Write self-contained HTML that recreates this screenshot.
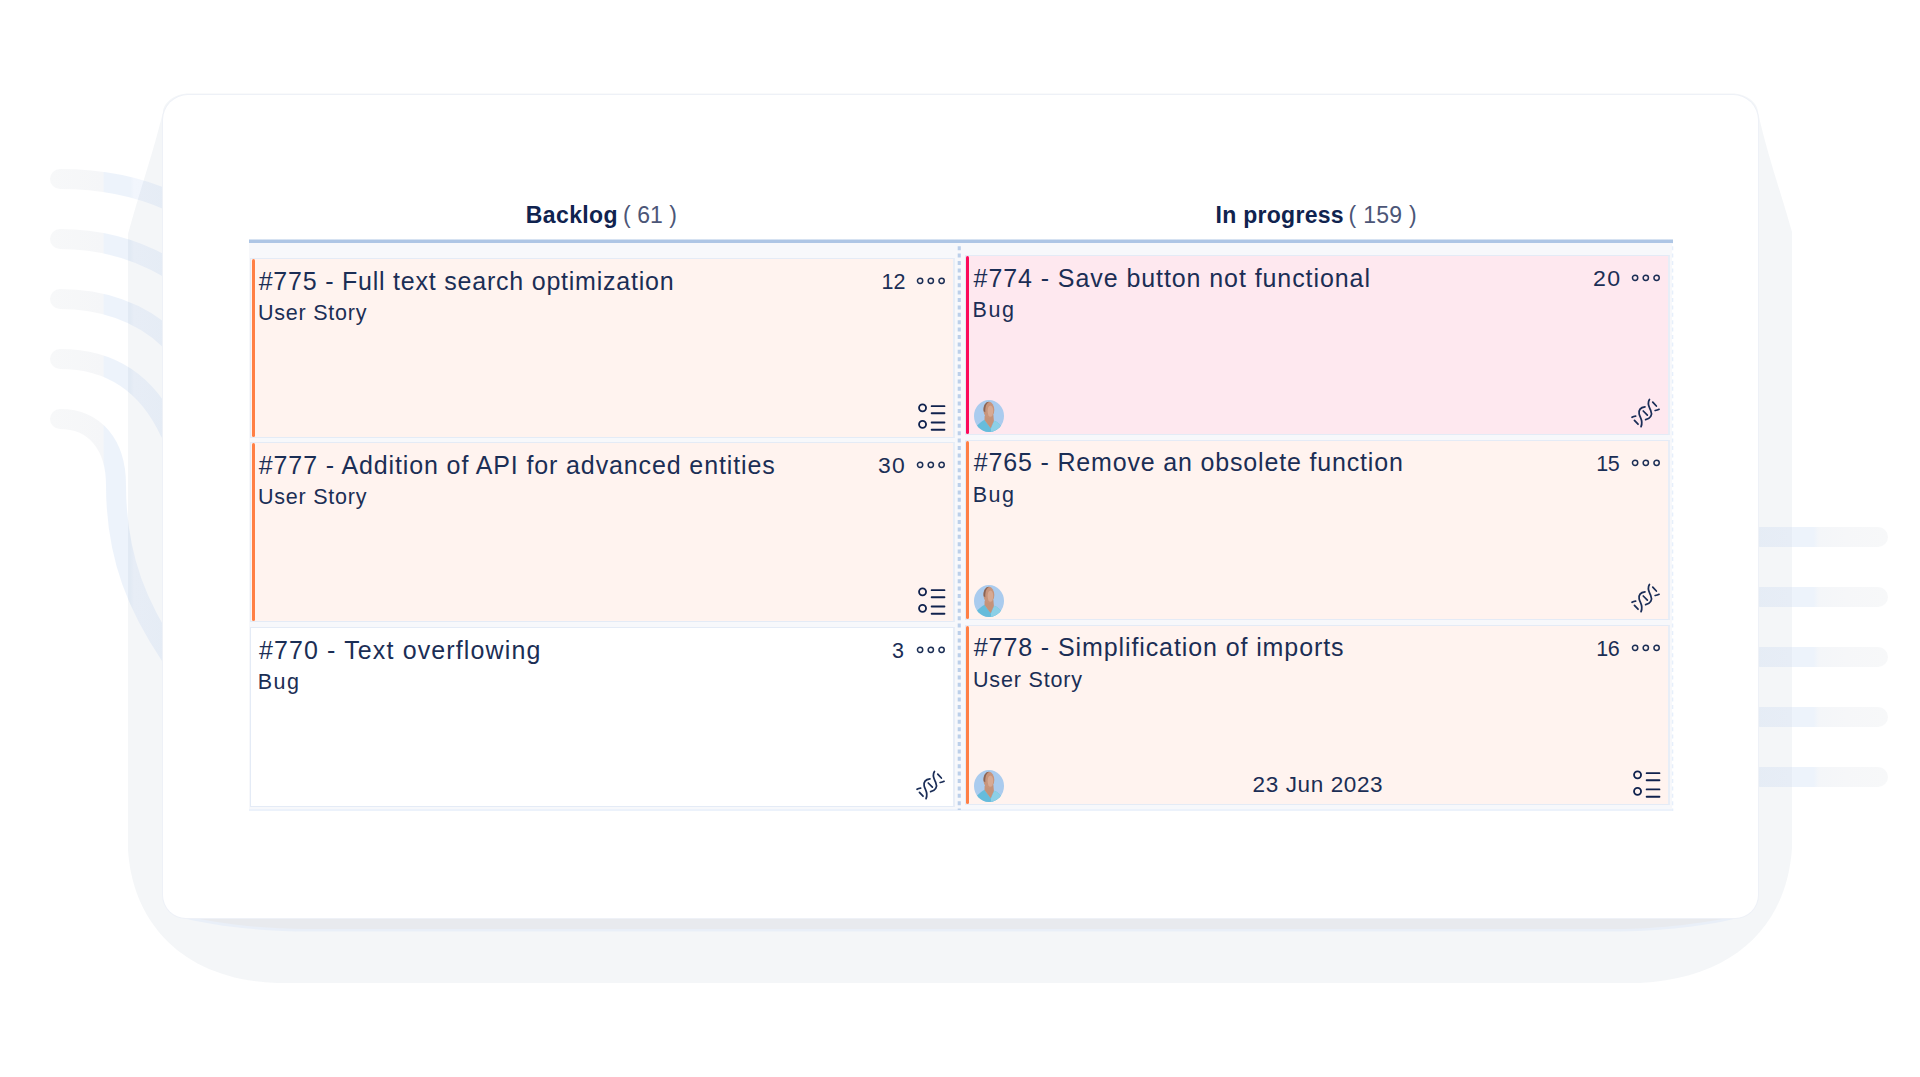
<!DOCTYPE html>
<html lang="en">
<head>
<meta charset="utf-8">
<title>Kanban board</title>
<style>
*{box-sizing:border-box;margin:0;padding:0}
html,body{width:1920px;height:1077px;overflow:hidden;background:#fff}
body{position:relative;font-family:"Liberation Sans",sans-serif;color:#1b2e55}
.abs{position:absolute}
#deco{left:0;top:0;width:1920px;height:1077px}
#panel{left:163px;top:95px;width:1595px;height:823px;background:#fff;border-radius:25px 25px 23px 23px;box-shadow:0 0 0 1px #eef1f7}
.hdr{top:200px;height:30px;line-height:30px;font-size:23px;white-space:nowrap;color:#4c5677}
.hdr b{font-weight:700;color:#10234f}
#hline{left:248.5px;top:239px;width:1424px;height:5px;background:linear-gradient(to bottom,rgba(174,198,229,.5) 0,rgba(174,198,229,.5) 1px,#aec6e5 1px,#aec6e5 4px,rgba(174,198,229,.12) 4px,rgba(174,198,229,.12) 5px)}
#cols{left:249px;top:243px;width:1423px;height:568px;background:#f7f8fb;border-bottom:2px solid #ecf2fb}
.card{width:705px;height:180px;border:solid #e4ebf6;border-right-color:#e8eef7;border-width:1px 2px 1px 1px;background:#fff3ef}
.card.pink{background:#fee8ef}
.card.white{background:#fff}
.stripe{left:.5px;top:0;width:3.5px;height:178px;border-radius:1.6px;background:#ff7f45}
.pink .stripe{background:#fc0a5a}
.r .stripe{left:0;width:3.3px}
.t{left:7.3px;top:calc(6.8px + var(--dy,0px));height:30px;line-height:30px;font-size:25px;white-space:nowrap;letter-spacing:.8px}
.s{left:6.4px;top:calc(41.4px + var(--dy,0px));height:26px;line-height:26px;font-size:21.5px;white-space:nowrap;letter-spacing:.8px}
.n{left:630px;top:calc(10.3px + var(--dy,0px));height:26px;line-height:26px;font-size:21.5px;white-space:nowrap}
.dots{right:5px;top:16.5px;width:34px;height:10px}
.ico{right:4px;bottom:3px;width:36px;height:36px}
.av{left:7px;bottom:.8px;width:32px;height:34px}
.date{left:286px;bottom:5.9px;height:26px;line-height:26px;font-size:22.5px;white-space:nowrap;letter-spacing:1.2px}
</style>
</head>
<body>
<svg id="deco" class="abs" viewBox="0 0 1920 1077">
<defs>
<linearGradient id="gl" gradientUnits="userSpaceOnUse" x1="50" y1="0" x2="170" y2="0"><stop offset="0" stop-color="#f7f8f9"/><stop offset=".44" stop-color="#f5f6f8"/><stop offset=".455" stop-color="#edf3fb"/><stop offset=".67" stop-color="#edf3fb"/><stop offset=".70" stop-color="#f2f6fd"/><stop offset="1" stop-color="#f0f5fc"/></linearGradient>
<linearGradient id="gr" gradientUnits="userSpaceOnUse" x1="1750" y1="0" x2="1888" y2="0"><stop offset="0" stop-color="#f0f5fc"/><stop offset=".3" stop-color="#f2f6fd"/><stop offset=".31" stop-color="#edf3fb"/><stop offset=".46" stop-color="#edf3fb"/><stop offset=".5" stop-color="#f4f6f9"/><stop offset=".7" stop-color="#f6f7f9"/><stop offset="1" stop-color="#f7f8f9"/></linearGradient>
</defs>
<g fill="none" stroke="url(#gl)" stroke-width="20" stroke-linecap="round">
<path d="M60 179C100 179 135 185 170 201"/>
<path d="M60 239C100 239 135 248 170 269"/>
<path d="M60 299C100 299 140 311 170 340"/>
<path d="M60 359C105 359 145 378 170 432"/>
<path d="M60 419C95 419 116 445 116 485C116 560 140 610 170 655"/>
</g>
<g fill="url(#gr)">
<rect x="1750" y="527" width="138" height="20" rx="10"/>
<rect x="1750" y="587" width="138" height="20" rx="10"/>
<rect x="1750" y="647" width="138" height="20" rx="10"/>
<rect x="1750" y="707" width="138" height="20" rx="10"/>
<rect x="1750" y="767" width="138" height="20" rx="10"/>
</g>
<path d="M189 93.4H1732C1748 93.4 1758 104 1758 112C1766 150 1780 190 1792 232V848C1787 925 1735 978 1640 983H277C185 980 133 925 128 850V234C140 190 154 150 163 112C163 104 173 93.4 189 93.4Z" fill="#1e3c6e" fill-opacity=".047"/>
<path d="M176 916C210 926 262 931.6 310 931.6H1611C1659 931.6 1711 926 1745 916Z" fill="#e9eff8"/>
<path d="M176 914C212 923 262 929 305 929H1616C1659 929 1709 923 1745 914Z" fill="#e8eaee"/>
</svg>
<div id="panel" class="abs"></div>

<div class="abs hdr" id="h1" style="left:525.8px;letter-spacing:0.39px"><b>Backlog</b></div>
<div class="abs hdr" id="c1" style="left:623.0px;letter-spacing:0.05px">( 61 )</div>
<div class="abs hdr" id="h2" style="left:1215.5px;letter-spacing:0.29px"><b>In progress</b></div>
<div class="abs hdr" id="c2" style="left:1348.6px;letter-spacing:0.27px">( 159 )</div>
<div id="hline" class="abs"></div>
<div id="cols" class="abs"></div>
<svg class="abs" style="left:955px;top:243px;width:8px;height:567px" viewBox="0 0 8 567"><path d="M4.25 3.2V567.6" stroke="#bbcfea" stroke-width="3.1" stroke-dasharray="4 3.4" fill="none"/></svg>
<svg class="abs" style="left:1670px;top:243px;width:4px;height:568px" viewBox="0 0 4 568"><path d="M2.6 3.2V568" stroke="#e6effb" stroke-width="1.4" stroke-dasharray="4 3.4" fill="none"/></svg>

<!-- left column -->
<div class="abs card" style="left:250px;top:258px">
  <div class="abs stripe"></div>
  <div class="abs t" id="tL1" style="left:7.7px;letter-spacing:0.78px">#775 - Full text search optimization</div>
  <div class="abs s" id="sL1" style="left:6.9px;letter-spacing:0.78px">User Story</div>
  <div class="abs n" id="nL1" style="left:630.4px;letter-spacing:0.07px">12</div>
  <svg class="abs dots" viewBox="0 0 34 10"><g fill="none" stroke="#1b2e55" stroke-width="1.5"><circle cx="6.1" cy="4.8" r="2.65"/><circle cx="16.8" cy="4.8" r="2.65"/><circle cx="27.6" cy="4.8" r="2.65"/></g></svg>
  <svg class="abs ico" viewBox="0 0 36 36"><g transform="translate(1.05 -0.95)" fill="none" stroke="#10224e" stroke-width="1.85" stroke-linecap="round"><circle cx="8.5" cy="10.8" r="3.5"/><circle cx="8.5" cy="27.3" r="3.5"/><path d="M17.6 9.1H30.4M17.6 16.2H30.4M17.6 25.4H30.4M17.6 32.7H30.4"/></g></svg>
</div>
<div class="abs card" style="left:250px;top:442px">
  <div class="abs stripe"></div>
  <div class="abs t" id="tL2" style="left:7.8px;letter-spacing:0.88px">#777 - Addition of API for advanced entities</div>
  <div class="abs s" id="sL2" style="left:6.9px;letter-spacing:0.78px">User Story</div>
  <div class="abs n" id="nL2" style="left:626.6px;letter-spacing:1.2px;transform:scaleX(1.065);transform-origin:0 0">30</div>
  <svg class="abs dots" viewBox="0 0 34 10"><g fill="none" stroke="#1b2e55" stroke-width="1.5"><circle cx="6.1" cy="4.8" r="2.65"/><circle cx="16.8" cy="4.8" r="2.65"/><circle cx="27.6" cy="4.8" r="2.65"/></g></svg>
  <svg class="abs ico" viewBox="0 0 36 36"><g transform="translate(1.05 -0.95)" fill="none" stroke="#10224e" stroke-width="1.85" stroke-linecap="round"><circle cx="8.5" cy="10.8" r="3.5"/><circle cx="8.5" cy="27.3" r="3.5"/><path d="M17.6 9.1H30.4M17.6 16.2H30.4M17.6 25.4H30.4M17.6 32.7H30.4"/></g></svg>
</div>
<div class="abs card white" style="left:250px;top:627px">
  <div class="abs t" id="tL3" style="left:7.9px;letter-spacing:1.13px">#770 - Text overflowing</div>
  <div class="abs s" id="sL3" style="left:6.8px;letter-spacing:1.43px">Bug</div>
  <div class="abs n" id="nL3" style="left:641.0px;letter-spacing:0.00px">3</div>
  <svg class="abs dots" viewBox="0 0 34 10"><g fill="none" stroke="#1b2e55" stroke-width="1.5"><circle cx="6.1" cy="4.8" r="2.65"/><circle cx="16.8" cy="4.8" r="2.65"/><circle cx="27.6" cy="4.8" r="2.65"/></g></svg>
  <svg class="abs ico" viewBox="0 0 36 36"><g transform="translate(-3.15 0.1)" fill="none" stroke="#1a2d57" stroke-width="1.75" stroke-linecap="round"><path d="M20.1 11.8C15.5 12.3 13.6 15 14.3 18.8C15 22.4 18.8 25.5 16.2 31.6"/><path d="M24.6 4.4C21.8 8.4 24.3 12 25.9 15.5C27.9 19.8 25.6 23.6 20.8 24.6"/><path d="M7.2 22.2C8.4 21.4 9.4 21.1 10.8 21"/><path d="M9.6 25.3L13.2 29.1"/><path d="M18.4 15.9L22.5 20"/><path d="M27.9 7.1L31.5 10.9"/><path d="M30.3 15.4C32 15.2 33.2 14.8 34.2 14.2"/></g></svg>
</div>

<!-- right column -->
<div class="abs card pink r" style="left:965px;top:255px">
  <div class="abs stripe"></div>
  <div class="abs t" id="tR1" style="left:7.6px;letter-spacing:0.92px">#774 - Save button not functional</div>
  <div class="abs s" id="sR1" style="left:6.6px;letter-spacing:1.61px">Bug</div>
  <div class="abs n" id="nR1" style="left:626.9px;letter-spacing:1.3px;transform:scaleX(1.075);transform-origin:0 0">20</div>
  <svg class="abs dots" viewBox="0 0 34 10"><g fill="none" stroke="#1b2e55" stroke-width="1.5"><circle cx="6.1" cy="4.8" r="2.65"/><circle cx="16.8" cy="4.8" r="2.65"/><circle cx="27.6" cy="4.8" r="2.65"/></g></svg>
  <svg class="abs ico" viewBox="0 0 36 36"><g transform="translate(-3.15 0.1)" fill="none" stroke="#1a2d57" stroke-width="1.75" stroke-linecap="round"><path d="M20.1 11.8C15.5 12.3 13.6 15 14.3 18.8C15 22.4 18.8 25.5 16.2 31.6"/><path d="M24.6 4.4C21.8 8.4 24.3 12 25.9 15.5C27.9 19.8 25.6 23.6 20.8 24.6"/><path d="M7.2 22.2C8.4 21.4 9.4 21.1 10.8 21"/><path d="M9.6 25.3L13.2 29.1"/><path d="M18.4 15.9L22.5 20"/><path d="M27.9 7.1L31.5 10.9"/><path d="M30.3 15.4C32 15.2 33.2 14.8 34.2 14.2"/></g></svg>
  <svg class="abs av" viewBox="0 0 32 32" preserveAspectRatio="none"><defs><clipPath id="avc1"><circle cx="16" cy="16" r="15"/></clipPath></defs><circle cx="16" cy="16" r="15" fill="#aacbee"/><g clip-path="url(#avc1)"><path d="M2 27.5C5 23.5 9 21 11.6 19.6L17.5 27L21 20.5C24.5 21.5 27.5 24 29.5 27.5L29 33H2Z" fill="#66bcdb"/><path d="M18 27.5L21 20.5C24.5 21.5 27.5 24 29.5 27.5V33H18Z" fill="#8ccfe6"/><path d="M11.6 16L11.5 19.8L17.6 27.6L20.9 20.8L20.4 15Z" fill="#c59279"/><ellipse cx="15.9" cy="10.4" rx="5.4" ry="7.8" fill="#c8947b"/><ellipse cx="17.4" cy="11.4" rx="2.8" ry="5.4" fill="#dcb09b" fill-opacity=".75"/><path d="M10.6 11.5C9.9 5.6 13 2.4 16.6 2.6C13.6 3.6 12.1 6.6 12.3 12.5Z" fill="#8b6455"/></g></svg>
</div>
<div class="abs card r" style="left:965px;top:440px;--dy:-.7px">
  <div class="abs stripe"></div>
  <div class="abs t" id="tR2" style="left:7.8px;letter-spacing:0.83px">#765 - Remove an obsolete function</div>
  <div class="abs s" id="sR2" style="left:6.8px;letter-spacing:1.43px">Bug</div>
  <div class="abs n" id="nR2" style="left:630.2px;letter-spacing:-0.50px">15</div>
  <svg class="abs dots" viewBox="0 0 34 10"><g fill="none" stroke="#1b2e55" stroke-width="1.5"><circle cx="6.1" cy="4.8" r="2.65"/><circle cx="16.8" cy="4.8" r="2.65"/><circle cx="27.6" cy="4.8" r="2.65"/></g></svg>
  <svg class="abs ico" viewBox="0 0 36 36"><g transform="translate(-3.15 0.1)" fill="none" stroke="#1a2d57" stroke-width="1.75" stroke-linecap="round"><path d="M20.1 11.8C15.5 12.3 13.6 15 14.3 18.8C15 22.4 18.8 25.5 16.2 31.6"/><path d="M24.6 4.4C21.8 8.4 24.3 12 25.9 15.5C27.9 19.8 25.6 23.6 20.8 24.6"/><path d="M7.2 22.2C8.4 21.4 9.4 21.1 10.8 21"/><path d="M9.6 25.3L13.2 29.1"/><path d="M18.4 15.9L22.5 20"/><path d="M27.9 7.1L31.5 10.9"/><path d="M30.3 15.4C32 15.2 33.2 14.8 34.2 14.2"/></g></svg>
  <svg class="abs av" viewBox="0 0 32 32" preserveAspectRatio="none"><defs><clipPath id="avc2"><circle cx="16" cy="16" r="15"/></clipPath></defs><circle cx="16" cy="16" r="15" fill="#aacbee"/><g clip-path="url(#avc2)"><path d="M2 27.5C5 23.5 9 21 11.6 19.6L17.5 27L21 20.5C24.5 21.5 27.5 24 29.5 27.5L29 33H2Z" fill="#66bcdb"/><path d="M18 27.5L21 20.5C24.5 21.5 27.5 24 29.5 27.5V33H18Z" fill="#8ccfe6"/><path d="M11.6 16L11.5 19.8L17.6 27.6L20.9 20.8L20.4 15Z" fill="#c59279"/><ellipse cx="15.9" cy="10.4" rx="5.4" ry="7.8" fill="#c8947b"/><ellipse cx="17.4" cy="11.4" rx="2.8" ry="5.4" fill="#dcb09b" fill-opacity=".75"/><path d="M10.6 11.5C9.9 5.6 13 2.4 16.6 2.6C13.6 3.6 12.1 6.6 12.3 12.5Z" fill="#8b6455"/></g></svg>
</div>
<div class="abs card r" style="left:965px;top:625px;--dy:-.7px">
  <div class="abs stripe"></div>
  <div class="abs t" id="tR3" style="left:7.8px;letter-spacing:0.90px">#778 - Simplification of imports</div>
  <div class="abs s" id="sR3" style="left:7.0px;letter-spacing:0.84px">User Story</div>
  <div class="abs n" id="nR3" style="left:630.2px;letter-spacing:-0.38px">16</div>
  <div class="abs date" id="date" style="left:286.6px;letter-spacing:0.61px">23 Jun 2023</div>
  <svg class="abs dots" viewBox="0 0 34 10"><g fill="none" stroke="#1b2e55" stroke-width="1.5"><circle cx="6.1" cy="4.8" r="2.65"/><circle cx="16.8" cy="4.8" r="2.65"/><circle cx="27.6" cy="4.8" r="2.65"/></g></svg>
  <svg class="abs ico" viewBox="0 0 36 36"><g transform="translate(1.05 -0.95)" fill="none" stroke="#10224e" stroke-width="1.85" stroke-linecap="round"><circle cx="8.5" cy="10.8" r="3.5"/><circle cx="8.5" cy="27.3" r="3.5"/><path d="M17.6 9.1H30.4M17.6 16.2H30.4M17.6 25.4H30.4M17.6 32.7H30.4"/></g></svg>
  <svg class="abs av" viewBox="0 0 32 32" preserveAspectRatio="none"><defs><clipPath id="avc3"><circle cx="16" cy="16" r="15"/></clipPath></defs><circle cx="16" cy="16" r="15" fill="#aacbee"/><g clip-path="url(#avc3)"><path d="M2 27.5C5 23.5 9 21 11.6 19.6L17.5 27L21 20.5C24.5 21.5 27.5 24 29.5 27.5L29 33H2Z" fill="#66bcdb"/><path d="M18 27.5L21 20.5C24.5 21.5 27.5 24 29.5 27.5V33H18Z" fill="#8ccfe6"/><path d="M11.6 16L11.5 19.8L17.6 27.6L20.9 20.8L20.4 15Z" fill="#c59279"/><ellipse cx="15.9" cy="10.4" rx="5.4" ry="7.8" fill="#c8947b"/><ellipse cx="17.4" cy="11.4" rx="2.8" ry="5.4" fill="#dcb09b" fill-opacity=".75"/><path d="M10.6 11.5C9.9 5.6 13 2.4 16.6 2.6C13.6 3.6 12.1 6.6 12.3 12.5Z" fill="#8b6455"/></g></svg>
</div>
</body>
</html>
